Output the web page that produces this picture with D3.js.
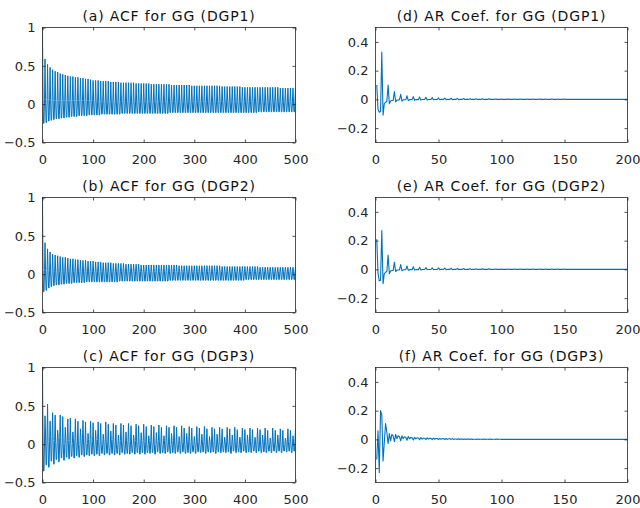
<!DOCTYPE html>
<html><head><meta charset="utf-8">
<script src="https://cdn.jsdelivr.net/npm/d3@7"></script>
<style>
body{margin:0;background:#fff}
svg text{font-family:"DejaVu Sans",sans-serif}
</style>
</head><body>
<svg id="chart" width="640" height="508"></svg>
<script>
// ---------- DATA ----------
const titles = ["(a) ACF for GG (DGP1)","(b) ACF for GG (DGP2)","(c) ACF for GG (DGP3)",
                "(d) AR Coef. for GG (DGP1)","(e) AR Coef. for GG (DGP2)","(f) AR Coef. for GG (DGP3)"];
const acfXTicks = [0,100,200,300,400,500];
const acfXTickLabels = ["0","100","200","300","400","500"];
const acfYTicks = [-0.5,0,0.5,1];
const acfYTickLabels = ["\u22120.5","0","0.5","1"];
const arXTicks = [0,50,100,150,200];
const arXTickLabels = ["0","50","100","150","200"];
const arYTicks = [-0.2,0,0.2,0.4];
const arYTickLabels = ["\u22120.2","0","0.2","0.4"];

// ACF: lag 0 = 1; seasonal lags 5k (peak), lags 5k+1/5k+4 (near), lags 5k+2/5k+3 (far)
const acf1Peak = [.59,.52,.48,.45,.43,.42,.40,.39,.38,.37,
 .36,.36,.35,.35,.34,.34,.33,.33,.32,.31,
 .31,.31,.30,.30,.30,.30,.29,.29,.29,.29,
 .28,.28,.28,.28,.28,.28,.27,.27,.27,.27,
 .27,.27,.26,.26,.26,.26,.26,.26,.26,.26,
 .25,.25,.25,.25,.25,.25,.25,.25,.24,.24,
 .24,.24,.24,.24,.24,.24,.24,.24,.24,.24,
 .23,.23,.23,.23,.23,.23,.23,.23,.22,.22,
 .22,.22,.22,.22,.22,.22,.22,.22,.22,.22,
 .22,.22,.22,.21,.21,.21,.21,.21,.21,.21];
const acf1Near = [.07,.06,.06,.05,.05,.05,.05,.05,.05,.05,
 .05,.05,.05,.05,.05,.05,.05,.05,.05,.05,
 .04,.04,.04,.04,.04,.04,.04,.04,.04,.04,
 .04,.04,.04,.04,.04,.04,.04,.04,.04,.04,
 .04,.04,.04,.04,.04,.04,.04,.04,.04,.04,
 .04,.04,.04,.04,.04,.04,.04,.04,.04,.04,
 .04,.04,.04,.04,.04,.04,.04,.04,.04,.04,
 .04,.04,.04,.04,.04,.04,.04,.04,.04,.04,
 .04,.04,.04,.04,.04,.04,.04,.04,.04,.04,
 .04,.04,.04,.04,.04,.04,.04,.04,.04,.04];
const acf1Far = [-.25,-.24,-.22,-.21,-.20,-.19,-.19,-.18,-.18,-.17,
 -.17,-.16,-.16,-.16,-.15,-.15,-.15,-.15,-.14,-.14,
 -.14,-.14,-.14,-.13,-.13,-.13,-.13,-.13,-.13,-.13,
 -.13,-.12,-.12,-.12,-.12,-.12,-.12,-.12,-.12,-.12,
 -.12,-.12,-.12,-.12,-.12,-.12,-.12,-.12,-.12,-.12,
 -.11,-.11,-.11,-.11,-.11,-.11,-.11,-.11,-.11,-.11,
 -.11,-.11,-.11,-.11,-.11,-.11,-.11,-.11,-.11,-.11,
 -.11,-.11,-.11,-.11,-.11,-.11,-.11,-.11,-.11,-.11,
 -.11,-.11,-.11,-.11,-.11,-.10,-.10,-.10,-.10,-.10,
 -.10,-.10,-.10,-.10,-.10,-.10,-.10,-.10,-.10,-.10];

const acf2Peak = [.41,.33,.29,.26,.25,.24,.23,.22,.22,.21,
 .20,.20,.19,.19,.18,.18,.18,.17,.17,.17,
 .16,.16,.16,.15,.15,.15,.15,.14,.14,.14,
 .14,.14,.13,.13,.13,.13,.13,.13,.12,.12,
 .12,.12,.12,.12,.12,.12,.12,.12,.12,.12,
 .12,.12,.12,.11,.11,.11,.11,.11,.11,.11,
 .11,.11,.11,.11,.11,.11,.11,.11,.11,.11,
 .10,.10,.10,.10,.10,.10,.10,.10,.10,.10,
 .10,.10,.10,.10,.10,.09,.09,.09,.09,.09,
 .09,.09,.09,.09,.09,.09,.09,.09,.09,.09];
const acf2Near = [.06,.05,.05,.04,.04,.04,.04,.04,.04,.04,
 .04,.04,.04,.04,.04,.04,.04,.04,.04,.04,
 .04,.04,.04,.04,.04,.04,.04,.04,.04,.04,
 .04,.04,.04,.04,.04,.04,.04,.04,.04,.04,
 .03,.03,.03,.03,.03,.03,.03,.03,.03,.03,
 .03,.03,.03,.03,.03,.03,.03,.03,.03,.03,
 .03,.03,.03,.03,.03,.03,.03,.03,.03,.03,
 .03,.03,.03,.03,.03,.03,.03,.03,.03,.03,
 .03,.03,.03,.03,.03,.03,.03,.03,.03,.03,
 .03,.03,.03,.03,.03,.03,.03,.03,.03,.03];
const acf2Far = [-.23,-.21,-.18,-.16,-.15,-.14,-.14,-.13,-.13,-.12,
 -.12,-.12,-.11,-.11,-.11,-.11,-.11,-.10,-.10,-.10,
 -.10,-.10,-.10,-.10,-.10,-.10,-.10,-.10,-.10,-.10,
 -.09,-.09,-.09,-.09,-.09,-.09,-.09,-.09,-.09,-.09,
 -.09,-.09,-.09,-.09,-.09,-.09,-.09,-.09,-.09,-.09,
 -.08,-.08,-.08,-.08,-.08,-.08,-.08,-.08,-.08,-.08,
 -.08,-.08,-.08,-.08,-.08,-.08,-.08,-.08,-.08,-.08,
 -.08,-.08,-.08,-.08,-.08,-.08,-.08,-.08,-.08,-.08,
 -.07,-.07,-.07,-.07,-.07,-.07,-.07,-.07,-.07,-.07,
 -.07,-.07,-.07,-.07,-.07,-.07,-.07,-.07,-.07,-.07];

const acf3Peak = [.37,.52,.30,.41,.38,.18,.38,.36,.22,.33,
 .34,.16,.33,.30,.20,.31,.29,.14,.30,.28,
 .18,.29,.27,.13,.29,.26,.17,.27,.25,.12,
 .27,.25,.16,.27,.24,.12,.26,.24,.15,.26,
 .23,.11,.25,.23,.15,.25,.22,.11,.24,.22,
 .14,.24,.22,.10,.24,.21,.14,.23,.21,.10,
 .23,.21,.13,.23,.20,.10,.22,.20,.13,.22,
 .20,.09,.22,.20,.12,.22,.19,.09,.21,.19,
 .12,.21,.19,.09,.21,.19,.12,.21,.18,.08,
 .21,.18,.12,.20,.18,.08,.20,.18,.11,.20];
const acf3Near = [.08,.12,.03,.10,.05,.02,.09,.04,.01,.08,
 .05,.01,.07,.04,.00,.07,.04,.01,.06,.03,
 .00,.06,.04,.00,.06,.03,.00,.06,.03,.00,
 .05,.03,.00,.05,.03,.00,.05,.03,.00,.05,
 .03,.00,.05,.03,.00,.05,.03,.00,.05,.03,
 .00,.05,.03,.00,.05,.03,.00,.04,.03,.00,
 .04,.03,.00,.04,.03,.00,.04,.03,.00,.04,
 .03,.00,.04,.03,.00,.04,.03,.00,.04,.03,
 .00,.04,.03,.00,.04,.03,.00,.04,.03,.00,
 .04,.03,.00,.04,.03,.00,.04,.03,.00,.04];
const acf3Far = [-.35,-.27,-.30,-.22,-.26,-.20,-.23,-.18,-.21,-.17,
 -.19,-.16,-.18,-.15,-.17,-.14,-.16,-.14,-.15,-.13,
 -.15,-.13,-.15,-.12,-.14,-.12,-.14,-.12,-.14,-.12,
 -.14,-.11,-.13,-.12,-.13,-.11,-.13,-.11,-.13,-.11,
 -.13,-.11,-.12,-.11,-.13,-.10,-.12,-.11,-.12,-.10,
 -.12,-.11,-.12,-.10,-.12,-.10,-.12,-.11,-.12,-.10,
 -.12,-.10,-.11,-.10,-.12,-.10,-.11,-.10,-.12,-.10,
 -.11,-.10,-.11,-.10,-.12,-.09,-.11,-.10,-.11,-.09,
 -.11,-.10,-.11,-.09,-.11,-.09,-.11,-.10,-.11,-.09,
 -.11,-.09,-.11,-.09,-.11,-.09,-.10,-.09,-.11,-.09];

// AR coefficients, lags 1..200
const ar1 = [.10,-.07,-.09,-.085,.33,-.11,-.03,-.02,-.015,.10,
 -.03,-.012,-.008,-.008,.055,-.018,-.005,-.004,-.004,.035,
 -.012,-.003,-.003,-.003,.025,-.008,-.002,-.002,-.002,.019,
 -.006,-.002,-.002,-.002,.016,-.005,-.001,-.001,-.001,.014,
 -.004,-.001,-.001,-.001,.012,-.003,-.001,-.001,-.001,.010,
 -.003,0,0,0,.009,-.002,0,0,0,.008,
 -.002,0,0,0,.007,-.002,0,0,0,.006,
 -.001,0,0,0,.005,-.001,0,0,0,.005,
 -.001,0,0,0,.004,-.001,0,0,0,.004,
 0,0,0,0,.003,0,0,0,0,.003,
 0,0,0,0,.002,0,0,0,0,.002,0,0,0,0,.002,0,0,0,0,.002,0,0,0,0,.002,
 0,0,0,0,.002,0,0,0,0,.002,0,0,0,0,.002,0,0,0,0,.002,0,0,0,0,.002,
 0,0,0,0,.001,0,0,0,0,.001,0,0,0,0,.001,0,0,0,0,.001,0,0,0,0,.001,
 0,0,0,0,.001,0,0,0,0,.001,0,0,0,0,.001,0,0,0,0,.001,0,0,0,0,.001];
const ar2 = [.21,-.03,-.08,-.075,.27,-.10,-.03,-.02,-.015,.10,
 -.03,-.012,-.008,-.007,.05,-.015,-.005,-.004,-.004,.033,
 -.01,-.003,-.003,-.003,.024,-.007,-.002,-.002,-.002,.018,
 -.005,-.002,-.002,-.002,.015,-.004,-.001,-.001,-.001,.013,
 -.003,-.001,-.001,-.001,.011,-.003,-.001,-.001,-.001,.010,
 -.002,0,0,0,.009,-.002,0,0,0,.008,
 -.002,0,0,0,.007,-.001,0,0,0,.006,
 -.001,0,0,0,.005,-.001,0,0,0,.005,
 -.001,0,0,0,.004,0,0,0,0,.004,
 0,0,0,0,.003,0,0,0,0,.003,
 0,0,0,0,.002,0,0,0,0,.002,0,0,0,0,.002,0,0,0,0,.002,0,0,0,0,.002,
 0,0,0,0,.002,0,0,0,0,.002,0,0,0,0,.002,0,0,0,0,.002,0,0,0,0,.002,
 0,0,0,0,.001,0,0,0,0,.001,0,0,0,0,.001,0,0,0,0,.001,0,0,0,0,.001,
 0,0,0,0,.001,0,0,0,0,.001,0,0,0,0,.001,0,0,0,0,.001,0,0,0,0,.001];
const ar3 = [-.14,.06,-.23,.20,.17,-.15,-.02,.11,.05,-.03,
 .04,-.01,.035,.025,-.015,.035,.005,.025,.02,-.01,
 .025,.005,.018,.015,-.006,.02,.004,.013,.012,-.004,
 .015,.003,.011,.010,-.003,.013,.002,.009,.008,-.002,
 .011,.002,.008,.007,-.002,.009,.001,.006,.006,-.001,
 .007,.001,.005,.005,-.001,.006,0,.004,.004,0,
 .005,0,.003,.003,0,.004,0,.002,.002,0,
 .003,0,.002,.002,0,.003,0,.001,.001,0,
 .002,0,.001,.001,0,.002,0,.001,.001,0,
 .002,0,.001,.001,0,.002,0,.001,.001,0,
 .001,0,0,0,0,.001,0,0,0,0,.001,0,0,0,0,.001,0,0,0,0,.001,0,0,0,0,
 .001,0,0,0,0,.001,0,0,0,0,.001,0,0,0,0,.001,0,0,0,0,.001,0,0,0,0,
 .001,0,0,0,0,.001,0,0,0,0,.001,0,0,0,0,.001,0,0,0,0,.001,0,0,0,0,
 .001,0,0,0,0,.001,0,0,0,0,.001,0,0,0,0,.001,0,0,0,0,.001,0,0,0,0];

// ---------- BUILD ----------
function buildAcf(peak, near, far){
  const v=[{lag:0,y:1}];
  for(let k=0;k<peak.length;k++){
    const b=5*k;
    v.push({lag:b+1,y:near[k]},{lag:b+2,y:far[k]},{lag:b+3,y:far[k]},{lag:b+4,y:near[k]},{lag:b+5,y:peak[k]});
  }
  return v;
}
const acfSeries=[buildAcf(acf1Peak,acf1Near,acf1Far),buildAcf(acf2Peak,acf2Near,acf2Far),buildAcf(acf3Peak,acf3Near,acf3Far)];
const arSeries=[ar1,ar2,ar3].map(a=>a.map((y,i)=>({lag:i+1,y})));

const svg=d3.select("#chart");
const C="#262626", LINE="#0072BD";
const cols=[[42.5,295.5],[375.5,627.5]];
const rowTop=27.5, rowBot=142.5, rowStep=170;

function panel(col,row,series,xDom,yDom,xt,xl,yt,yl,title,lw){
  const [x0,x1]=cols[col];
  const y0=rowTop+row*rowStep, y1=rowBot+row*rowStep;
  const x=d3.scaleLinear().domain(xDom).range([x0,x1]);
  const y=d3.scaleLinear().domain(yDom).range([y1,y0]);
  const g=svg.append("g");
  const cid="clip"+col+row;
  g.append("clipPath").attr("id",cid).append("rect").attr("x",x0).attr("y",y0).attr("width",x1-x0).attr("height",y1-y0);
  g.append("path").datum(series).attr("clip-path",`url(#${cid})`)
    .attr("fill","none").attr("stroke",LINE).attr("stroke-width",lw).attr("stroke-linejoin","round")
    .attr("d",d3.line().x(d=>x(d.lag)).y(d=>y(d.y)));
  const style=s=>{s.select(".domain").remove();s.selectAll(".tick line").attr("stroke",C).attr("stroke-width",0.8);
    s.selectAll(".tick text").attr("fill",C).style("font-size","13px").style("font-family","DejaVu Sans");};
  g.append("g").attr("transform",`translate(0,${y1})`)
    .call(d3.axisBottom(x).tickValues(xt).tickFormat((d,i)=>xl[i]).tickSizeInner(-3).tickSizeOuter(0).tickPadding(12.3)).call(style);
  g.append("g").attr("transform",`translate(0,${y0})`)
    .call(d3.axisTop(x).tickValues(xt).tickFormat("").tickSizeInner(-3).tickSizeOuter(0)).call(style);
  g.append("g").attr("transform",`translate(${x0},0)`)
    .call(d3.axisLeft(y).tickValues(yt).tickFormat((d,i)=>yl[i]).tickSizeInner(-3).tickSizeOuter(0).tickPadding(7)).call(style);
  g.append("g").attr("transform",`translate(${x1},0)`)
    .call(d3.axisRight(y).tickValues(yt).tickFormat("").tickSizeInner(-3).tickSizeOuter(0)).call(style);
  g.append("rect").attr("x",x0).attr("y",y0).attr("width",x1-x0).attr("height",y1-y0)
    .attr("fill","none").attr("stroke",C).attr("stroke-width",0.8);
  g.append("text").attr("x",(x0+x1)/2).attr("y",y0-6.8).attr("text-anchor","middle")
    .attr("fill","#111").style("font-size","14px").style("letter-spacing","0.85px").text(title);
}
for(let r=0;r<3;r++){
  panel(0,r,acfSeries[r],[0,500],[-0.5,1],acfXTicks,acfXTickLabels,acfYTicks,acfYTickLabels,titles[r],1.0);
  panel(1,r,arSeries[r],[0,200],[-0.3,0.5],arXTicks,arXTickLabels,arYTicks,arYTickLabels,titles[r+3],1.1);
}
</script>
</body></html>
